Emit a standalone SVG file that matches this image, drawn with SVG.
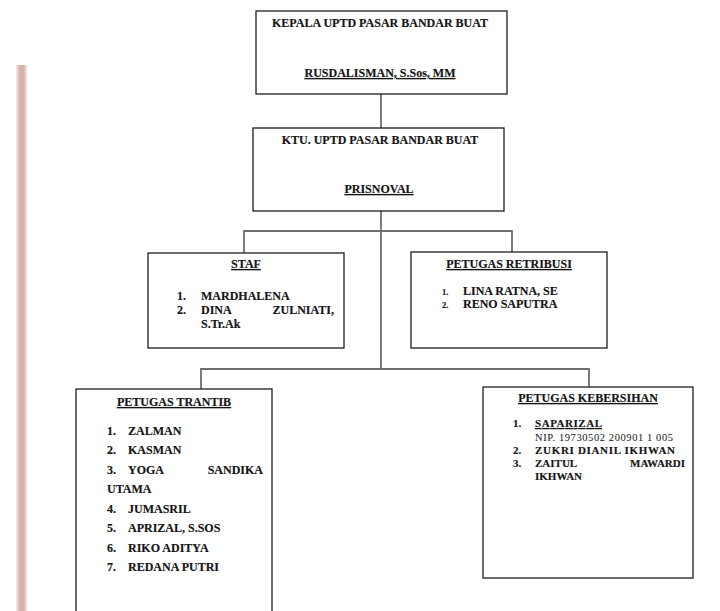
<svg xmlns="http://www.w3.org/2000/svg" width="720" height="611" viewBox="0 0 720 611">
<style>
  .box { fill: #ffffff; stroke: #1e1e1e; stroke-width: 1.3; }
  .con { fill: none; stroke: #6f6f6f; stroke-width: 1.8; }
  text { font-family: "Liberation Serif", "Times New Roman", serif; font-weight: bold; font-size: 12px; fill: #141414; stroke: #141414; stroke-width: 0.15; }
  .mid { text-anchor: middle; }
  .end { text-anchor: end; }
  .u { text-decoration: underline; }
  .num { font-size: 8.5px; }
  .sm { font-size: 11px; }
  .reg { font-weight: normal; font-size: 10.5px; stroke-width: 0; }
</style>
<defs>
  <linearGradient id="stripe" x1="0" y1="0" x2="1" y2="0">
    <stop offset="0" stop-color="#e9d2cf" stop-opacity="0.4"/>
    <stop offset="0.3" stop-color="#d9b4b1"/>
    <stop offset="0.7" stop-color="#d6b1ae"/>
    <stop offset="1" stop-color="#e6cbc8" stop-opacity="0.5"/>
  </linearGradient>
</defs>
<rect x="0" y="0" width="720" height="611" fill="#ffffff"/>
<rect x="16" y="65" width="11" height="546" fill="url(#stripe)"/>

<g id="connectors">
  <line class="con" x1="381" y1="94" x2="381" y2="128"/>
  <line class="con" x1="381" y1="211" x2="381" y2="369"/>
  <polyline class="con" points="244,253 244,231 512,231 512,252"/>
  <polyline class="con" points="201,389 201,369 589,369 589,387"/>
</g>

<g id="kepala">
  <rect class="box" x="256" y="11" width="251" height="83"/>
  <text class="mid" x="380" y="27">KEPALA UPTD PASAR BANDAR BUAT</text>
  <text class="mid u" x="380" y="77">RUSDALISMAN, S.Sos, MM</text>
</g>

<g id="ktu">
  <rect class="box" x="253" y="128" width="251" height="83"/>
  <text class="mid" x="380" y="144">KTU. UPTD PASAR BANDAR BUAT</text>
  <text class="mid u" x="379" y="193">PRISNOVAL</text>
</g>

<g id="staf">
  <rect class="box" x="148" y="253" width="196" height="95"/>
  <text class="mid u" x="246" y="268">STAF</text>
  <text x="177" y="300">1.</text>
  <text x="201" y="300">MARDHALENA</text>
  <text x="177" y="314">2.</text>
  <text x="201" y="314">DINA</text>
  <text class="end" x="334" y="314">ZULNIATI,</text>
  <text x="201" y="328">S.Tr.Ak</text>
</g>

<g id="retribusi">
  <rect class="box" x="411" y="252" width="196" height="96"/>
  <text class="mid u" x="509" y="268">PETUGAS RETRIBUSI</text>
  <text class="num" x="442" y="295">1.</text>
  <text x="463" y="295">LINA RATNA, SE</text>
  <text class="num" x="442" y="308">2.</text>
  <text x="463" y="308">RENO SAPUTRA</text>
</g>

<g id="trantib">
  <rect class="box" x="76" y="389" width="196" height="240"/>
  <text class="mid u" x="174" y="406">PETUGAS TRANTIB</text>
  <text x="107" y="435">1.</text>
  <text x="128" y="435">ZALMAN</text>
  <text x="107" y="454">2.</text>
  <text x="128" y="454">KASMAN</text>
  <text x="107" y="473.5">3.</text>
  <text x="128" y="473.5">YOGA</text>
  <text class="end" x="263" y="473.5">SANDIKA</text>
  <text x="107" y="493">UTAMA</text>
  <text x="107" y="512.5">4.</text>
  <text x="128" y="512.5">JUMASRIL</text>
  <text x="107" y="532">5.</text>
  <text x="128" y="532">APRIZAL, S.SOS</text>
  <text x="107" y="551.5">6.</text>
  <text x="128" y="551.5">RIKO ADITYA</text>
  <text x="107" y="571">7.</text>
  <text x="128" y="571">REDANA PUTRI</text>
</g>

<g id="kebersihan">
  <rect class="box" x="483" y="387" width="210" height="191"/>
  <text class="mid u" x="588" y="402">PETUGAS KEBERSIHAN</text>
  <text class="sm" x="513" y="427">1.</text>
  <text class="sm u" x="535" y="427" textLength="67" lengthAdjust="spacing">SAPARIZAL</text>
  <text class="reg" x="535" y="441" textLength="138" lengthAdjust="spacing">NIP. 19730502 200901 1 005</text>
  <text class="sm" x="513" y="454">2.</text>
  <text class="sm" x="535" y="454" textLength="140" lengthAdjust="spacing">ZUKRI DIANIL IKHWAN</text>
  <text class="sm" x="513" y="467">3.</text>
  <text class="sm" x="535" y="467">ZAITUL</text>
  <text class="sm end" x="685" y="467">MAWARDI</text>
  <text class="sm" x="535" y="480">IKHWAN</text>
</g>
</svg>
